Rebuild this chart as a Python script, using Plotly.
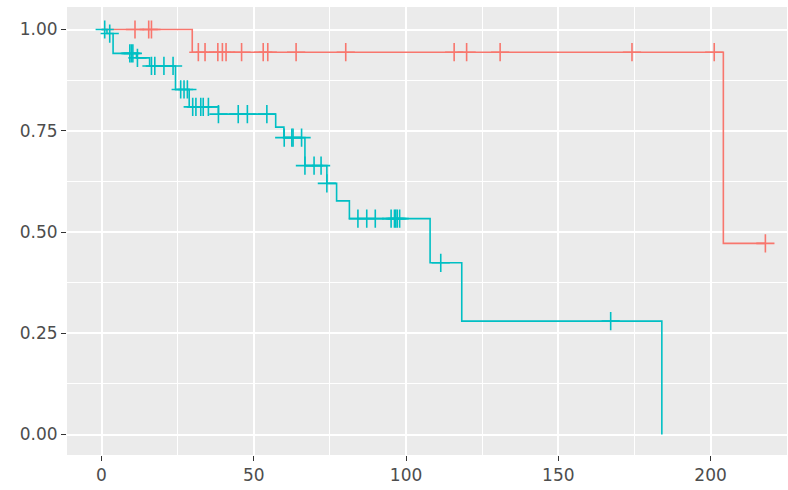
import numpy as np
import plotly.graph_objects as go

# ---- data ----
# group 1 (red): step path (time, survival)
red_times = [0.0, 29.8, 204.2, 218.0]
red_surv = [1.000, 0.944, 0.472, 0.472]
red_censor = [11.0, 15.5, 16.4, 31.8, 34.0, 38.2, 39.7, 40.9, 46.0, 53.1, 54.6,
              63.9, 80.2, 115.8, 119.9, 130.9, 174.2, 201.2, 218.0]

# group 2 (teal): step path (time, survival)
teal_times = [0.0, 1.8, 3.8, 11.5, 15.8, 24.3, 28.8, 38.4, 57.2, 59.9, 66.8,
              74.0, 77.2, 81.4, 107.9, 118.3, 184.0]
teal_surv = [1.000, 0.990, 0.941, 0.930, 0.910, 0.852, 0.809, 0.791, 0.759,
             0.733, 0.664, 0.620, 0.577, 0.533, 0.424, 0.280, 0.000]
teal_censor = [1.05, 2.7, 9.3, 9.8, 10.3, 11.8, 16.4, 17.5, 20.5, 23.5,
               26.0, 27.1, 28.2, 29.95, 31.0, 32.6, 33.4, 35.1, 38.4,
               44.9, 47.9, 54.3, 60.0, 62.5, 62.9, 65.7, 66.8, 69.8, 72.1,
               74.0, 84.2, 87.1, 89.9, 95.1, 96.2, 96.6, 97.1, 97.9,
               111.4, 167.2]

x_ticks = [0, 50, 100, 150, 200]
y_ticks = [0.00, 0.25, 0.50, 0.75, 1.00]

RED = "#F8766D"
TEAL = "#00BFC4"


def surv_at(times, surv, t):
    times = np.asarray(times)
    surv = np.asarray(surv)
    idx = np.searchsorted(times, t, side="right") - 1
    return surv[idx]


fig = go.Figure()
for times, surv, cens, col in [(red_times, red_surv, red_censor, RED),
                               (teal_times, teal_surv, teal_censor, TEAL)]:
    fig.add_trace(go.Scatter(x=times, y=surv, mode="lines",
                             line=dict(color=col, width=1.6, shape="hv"),
                             showlegend=False, hoverinfo="skip"))
    fig.add_trace(go.Scatter(x=cens, y=surv_at(times, surv, np.array(cens)),
                             mode="markers",
                             marker=dict(symbol="cross-thin", size=13,
                                         line=dict(color=col, width=1.6)),
                             showlegend=False, hoverinfo="skip"))

axis_font = dict(family="DejaVu Sans", size=17, color="#4D4D4D")
fig.update_layout(
    width=788, height=490,
    margin=dict(l=67, r=1, t=7, b=35),
    paper_bgcolor="white",
    plot_bgcolor="#EBEBEB",
    xaxis=dict(range=[-11.33, 225.1], tickvals=x_ticks,
               ticktext=[str(v) for v in x_ticks],
               showgrid=True, gridcolor="white", gridwidth=1.5,
               zeroline=False, showline=False,
               ticks="outside", ticklen=5, tickwidth=1.1, tickcolor="#333333",
               tickfont=axis_font,
               minor=dict(dtick=25, tick0=25, showgrid=True,
                          gridcolor="white", gridwidth=0.8, ticks="")),
    yaxis=dict(range=[-0.0506, 1.0556], tickvals=y_ticks,
               ticktext=["%.2f" % v for v in y_ticks],
               showgrid=True, gridcolor="white", gridwidth=1.5,
               zeroline=False, showline=False,
               ticks="outside", ticklen=5, tickwidth=1.1, tickcolor="#333333",
               tickfont=axis_font,
               minor=dict(dtick=0.125, tick0=0.125, showgrid=True,
                          gridcolor="white", gridwidth=0.8, ticks="")),
)

fig.write_html("out.html")
